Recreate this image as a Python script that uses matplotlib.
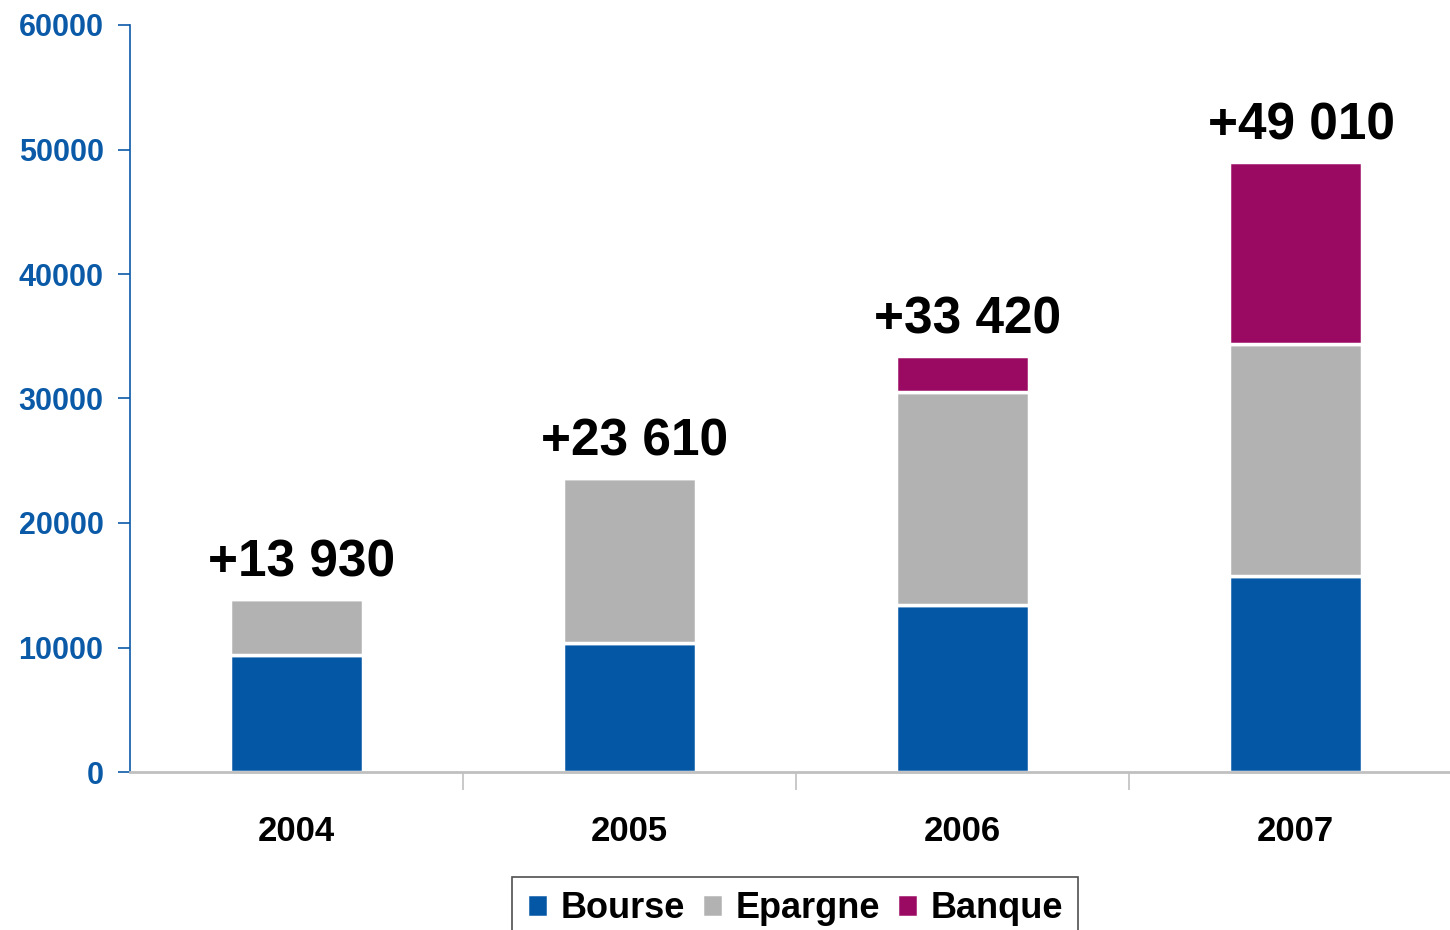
import numpy as np
import matplotlib.pyplot as plt

plt.rcParams['font.family'] = ['Liberation Sans', 'DejaVu Sans']
plt.rcParams['font.weight'] = 'bold'

years = ['2004', '2005', '2006', '2007']
bourse = [9400, 10350, 13400, 15750]
epargne = [4530, 13260, 17100, 18600]
banque = [0, 0, 2920, 14660]
totals = ['+13 930', '+23 610', '+33 420', '+49 010']

c_bourse = '#0457a5'
c_epargne = '#b2b2b2'
c_banque = '#9a0a62'
c_axis = '#0a5aa8'

fig = plt.figure(figsize=(14.5, 9.3), dpi=100)
ax = fig.add_axes([130 / 1450, 1 - 772 / 930, 1 - 130 / 1450, 747 / 930])

x = np.arange(len(years))
w = 0.4
b1 = np.array(bourse)
b2 = b1 + np.array(epargne)
b3 = b2 + np.array(banque)

ax.bar(x, bourse, w, color=c_bourse, edgecolor='white', linewidth=2.5, label='Bourse')
ax.bar(x, epargne, w, bottom=b1, color=c_epargne, edgecolor='white', linewidth=2.5, label='Epargne')
ax.bar(x, banque, w, bottom=b2, color=c_banque, edgecolor='white', linewidth=2.5, label='Banque')

for i, t in enumerate(totals):
    ax.annotate(t, (x[i], b3[i]), xytext=(4, 8), textcoords='offset points',
                ha='center', va='bottom', fontsize=37, fontweight='bold')

ax.set_xlim(-0.5, 3.464)
ax.set_ylim(0, 60000)
ax.set_yticks(np.arange(0, 60001, 10000))
ax.tick_params(axis='y', colors=c_axis, labelsize=22, length=9, width=1.2, pad=10)
for lbl in ax.get_yticklabels():
    lbl.set_fontweight('bold')

ax.set_xticks(x)
ax.set_xticklabels(years, fontsize=25, fontweight='bold')
ax.tick_params(axis='x', length=0, pad=31)
ax.set_xticks([0.5, 1.5, 2.5], minor=True)
ax.tick_params(axis='x', which='minor', length=13, width=1.2, color='#c0c0c0')

ax.spines['top'].set_visible(False)
ax.spines['right'].set_visible(False)
ax.spines['left'].set_color(c_axis)
ax.spines['left'].set_linewidth(1.2)
ax.spines['bottom'].set_color('#c0c0c0')
ax.spines['bottom'].set_linewidth(2)

leg = fig.legend(loc='upper center', bbox_to_anchor=(795 / 1450, 1 - 877 / 930), ncol=3,
                 fontsize=26, frameon=True, fancybox=False, edgecolor='#222222',
                 handlelength=0.6, handleheight=0.6, handletextpad=0.35,
                 columnspacing=0.45, borderpad=0.4, borderaxespad=0)
leg.get_frame().set_linewidth(1.2)
for t in leg.get_texts():
    t.set_fontweight('bold')

fig.savefig('out.png', dpi=100)
